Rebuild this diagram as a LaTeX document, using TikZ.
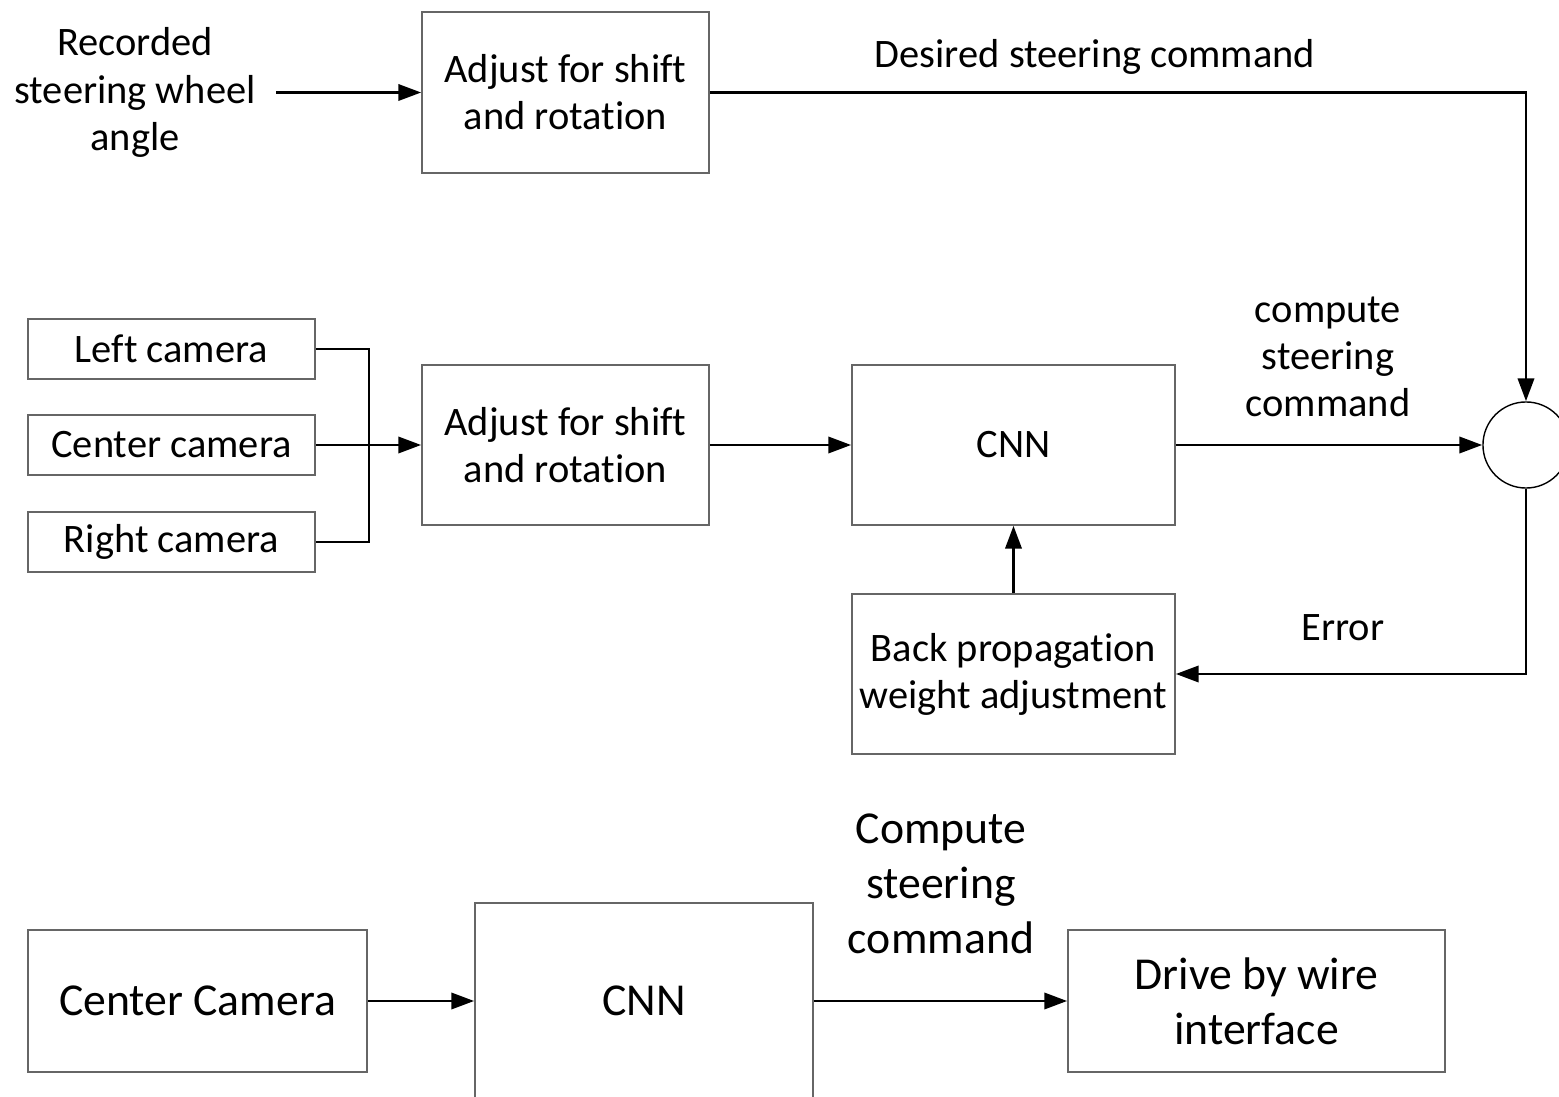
\documentclass[tikz,border=0pt]{standalone}
\usepackage{fontspec}
\setmainfont{Carlito}[Ligatures={NoCommon}]
\usepackage{tikz}
\usetikzlibrary{arrows.meta,positioning,calc}
\tikzset{
    block/.style={
        rectangle, draw=black!60, line width=0.4pt,
        inner sep=0pt, align=center,
        font=\fontsize{11.5}{13.4}\selectfont
    },
    bigblock/.style={
        block, font=\fontsize{13}{15.6}\selectfont
    },
    junction/.style={
        circle, draw=black, line width=0.4pt,
        minimum size=0.86cm, inner sep=0pt
    },
    label/.style={align=center, font=\fontsize{11.5}{13.4}\selectfont},
    biglabel/.style={align=center, font=\fontsize{13}{15.6}\selectfont},
    line/.style={draw, line width=0.85pt},
    arrow/.style={-{Triangle[length=6.5pt,width=4.6pt]}, line width=0.85pt}
}
\begin{document}
\begin{tikzpicture}[x=0.01cm, y=-0.01cm]
\clip (0,0) rectangle (1559,1097);

%% Training path, top row
\node[label, inner sep=0.2cm] (rec) at (135, 92.5)
    {Recorded\\steering wheel\\angle};
\node[block, minimum width=2.87cm, minimum height=1.61cm] (adjtop) at (565.5, 92.5)
    {Adjust for shift\\and rotation};

%% Cameras -- left column
\node[block, minimum width=2.87cm, minimum height=0.60cm] (leftcam)   at (171.5, 349) {Left camera};
\node[block, minimum width=2.87cm, minimum height=0.60cm] (centercam) at (171.5, 445) {Center camera};
\node[block, minimum width=2.87cm, minimum height=0.60cm] (rightcam)  at (171.5, 542) {Right camera};
\coordinate (bus) at (369, 445);

%% Middle row
\node[block, minimum width=2.87cm, minimum height=1.60cm] (adjmid) at (565.5, 445)
    {Adjust for shift\\and rotation};
\node[block, minimum width=3.23cm, minimum height=1.60cm] (cnn) at (1013.5, 445) {CNN};
\node[junction] (sum) at (1526, 445) {};
\node[block, minimum width=3.23cm, minimum height=1.60cm] (backprop) at (1013.5, 674)
    {Back propagation\\weight adjustment};

%% Connector labels
\node[label] at (1095, 57) {Desired steering command};
\node[label] at (1328, 357) {compute\\steering\\command};
\node[label] at (1343, 628) {Error};

%% Connectors
\draw[arrow] (rec.east) -- (adjtop.west);
\draw[arrow] (adjtop.east) -| (sum.north);
\draw[line] (leftcam.east) -| (bus) |- (rightcam.east);
\draw[arrow] (centercam.east) -- (adjmid.west);
\draw[arrow] (adjmid.east) -- (cnn.west);
\draw[arrow] (cnn.east) -- (sum.west);
\draw[arrow] (sum.south) |- (backprop.east);
\draw[arrow] (backprop.north) -- (cnn.south);

%% Driving path, bottom row
\node[bigblock, minimum width=3.39cm, minimum height=1.42cm] (camera) at (197.5, 1001) {Center Camera};
\node[bigblock, minimum width=3.38cm, minimum height=1.96cm] (cnnrun) at (644, 1001) {CNN};
\node[bigblock, minimum width=3.77cm, minimum height=1.42cm] (dbw) at (1256.5, 1001)
    {Drive by wire\\interface};
\node[biglabel] at (941, 884) {Compute\\steering\\command};

\draw[arrow] (camera.east) -- (cnnrun.west);
\draw[arrow] (cnnrun.east) -- (dbw.west);

\end{tikzpicture}
\end{document}
